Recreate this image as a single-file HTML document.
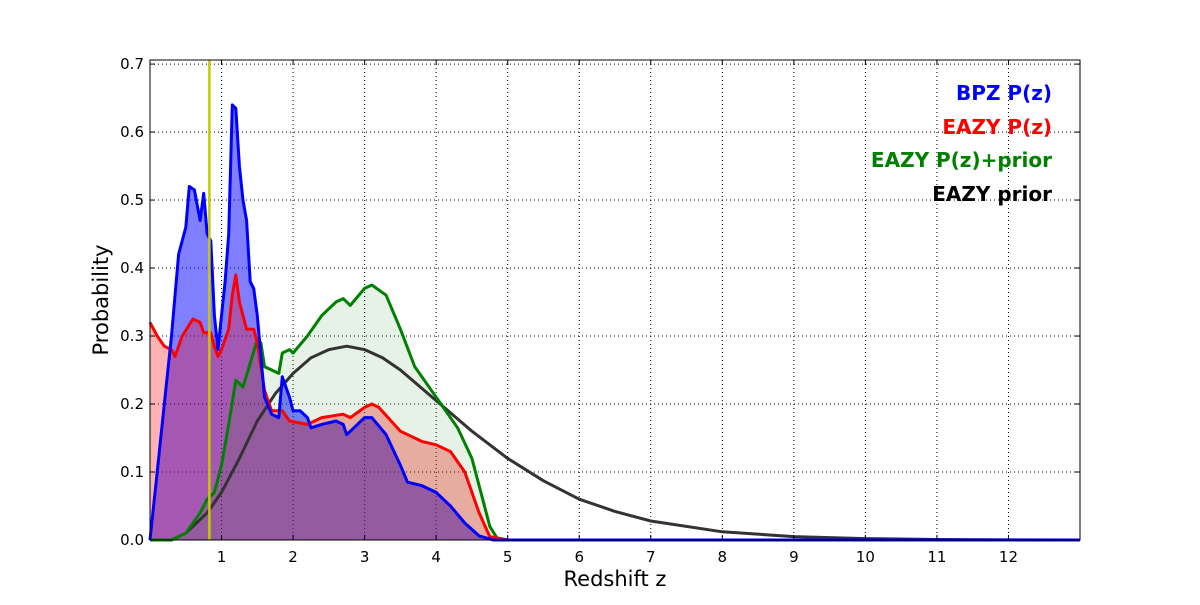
<!DOCTYPE html>
<html><head><meta charset="utf-8"><style>
body{margin:0;background:#fff;width:1200px;height:600px;overflow:hidden}
svg{font-family:"DejaVu Sans","Liberation Sans",sans-serif}
</style></head><body>
<svg id="chart" width="1200" height="600"></svg>
<script>
const tickX=[1,2,3,4,5,6,7,8,9,10,11,12];
const tickY=[0.0,0.1,0.2,0.3,0.4,0.5,0.6,0.7];
const bpzZ=[0,0.1,0.2,0.3,0.4,0.5,0.55,0.62,0.7,0.75,0.8,0.85,0.9,0.95,1.0,1.05,1.1,1.15,1.2,1.25,1.3,1.35,1.4,1.45,1.5,1.55,1.6,1.7,1.8,1.85,1.95,2.0,2.1,2.2,2.25,2.4,2.6,2.7,2.75,2.85,3.0,3.1,3.3,3.5,3.6,3.8,4.0,4.2,4.4,4.6,4.8,13];
const bpzP=[0,0.1,0.2,0.3,0.42,0.46,0.52,0.515,0.47,0.51,0.45,0.44,0.33,0.28,0.33,0.38,0.45,0.64,0.635,0.55,0.5,0.47,0.38,0.37,0.33,0.27,0.21,0.185,0.18,0.24,0.21,0.19,0.19,0.18,0.165,0.17,0.175,0.17,0.155,0.165,0.18,0.18,0.155,0.11,0.085,0.08,0.07,0.05,0.025,0.006,0,0];
const eazyZ=[0,0.1,0.2,0.3,0.35,0.45,0.6,0.7,0.75,0.85,0.9,0.95,1.0,1.1,1.15,1.2,1.25,1.35,1.45,1.5,1.6,1.7,1.85,1.95,2.2,2.4,2.7,2.8,3.0,3.1,3.2,3.5,3.8,4.0,4.2,4.4,4.6,4.75,5,13];
const eazyP=[0.32,0.3,0.285,0.28,0.27,0.3,0.325,0.32,0.305,0.305,0.285,0.27,0.28,0.31,0.36,0.39,0.35,0.31,0.31,0.29,0.22,0.19,0.19,0.175,0.17,0.18,0.185,0.18,0.195,0.2,0.195,0.16,0.145,0.14,0.13,0.1,0.04,0.005,0,0];
const priorPZ=[0,0.3,0.5,0.7,0.8,0.9,1.0,1.1,1.2,1.3,1.4,1.5,1.55,1.6,1.8,1.85,1.95,2.0,2.2,2.4,2.6,2.7,2.8,3.0,3.1,3.3,3.5,3.7,4.0,4.3,4.5,4.65,4.75,4.85,5,13];
const priorPP=[0,0,0.01,0.04,0.06,0.07,0.11,0.17,0.235,0.225,0.26,0.295,0.29,0.255,0.245,0.275,0.28,0.275,0.3,0.33,0.35,0.355,0.345,0.37,0.375,0.36,0.31,0.255,0.21,0.165,0.12,0.06,0.02,0.003,0,0];
const priorZ=[0,0.3,0.5,0.8,1.0,1.25,1.5,1.75,2.0,2.25,2.5,2.75,3.0,3.25,3.5,4.0,4.5,5,5.5,6,6.5,7,8,9,10,11,12,13];
const priorV=[0,0,0.01,0.04,0.07,0.12,0.175,0.215,0.245,0.268,0.28,0.285,0.28,0.268,0.25,0.205,0.16,0.12,0.087,0.06,0.042,0.028,0.012,0.005,0.002,0.0008,0.0002,0];
const zPhot=0.83;
const X0=150,X1=1080,Y0=540,Y1=60,ZMAX=13,PMAX=0.706;
const sx=z=>X0+(z/ZMAX)*(X1-X0), sy=p=>Y0-(p/PMAX)*(Y0-Y1);
const NS='http://www.w3.org/2000/svg', svg=document.getElementById('chart');
function mk(t,a,parent){const e=document.createElementNS(NS,t);for(const k in a)e.setAttribute(k,a[k]);(parent||svg).appendChild(e);return e;}
// grid
tickX.forEach(v=>{const g=mk('line',{x1:sx(v),x2:sx(v),y1:Y1,y2:Y0,stroke:'#000','stroke-dasharray':'1,3','stroke-width':1});

});
tickY.forEach(v=>{if(v===0)return;const g=mk('line',{x1:X0,x2:X1,y1:sy(v),y2:sy(v),stroke:'#000','stroke-dasharray':'1,3','stroke-width':1});

});
function pts(zs,ps){return zs.map((z,i)=>sx(z).toFixed(1)+','+sy(ps[i]).toFixed(1)).join(' ');}
function area(zs,ps,fill,op,name){const p=mk('polygon',{points:sx(zs[0])+','+Y0+' '+pts(zs,ps)+' '+sx(zs[zs.length-1])+','+Y0,fill:fill,'fill-opacity':op});

}
function line(zs,ps,col,name){const p=mk('polyline',{points:pts(zs,ps),fill:'none',stroke:col,'stroke-width':3,'stroke-linejoin':'round'});

}
area(bpzZ,bpzP,'#0000ff',0.5,'bpz-area');
area(eazyZ,eazyP,'#ff0000',0.3,'eazy-area');
area(priorPZ,priorPP,'#008000',0.1,'eazy-prior-pz-area');
line(priorZ,priorV,'#333333','eazy-prior-line');
line(priorPZ,priorPP,'#008000','eazy-prior-pz-line');
line(eazyZ,eazyP,'#ff0000','eazy-pz-line');
line(bpzZ,bpzP,'#0000ff','bpz-pz-line');
const vl=mk('line',{x1:sx(zPhot),x2:sx(zPhot),y1:Y1,y2:Y0,stroke:'#c8c800','stroke-width':2.5});


const fr=mk('rect',{x:X0,y:Y1,width:X1-X0,height:Y0-Y1,fill:'none',stroke:'#000','stroke-width':1});


tickX.forEach(v=>{mk('line',{x1:sx(v),x2:sx(v),y1:Y0,y2:Y0-5,stroke:'#000'});mk('line',{x1:sx(v),x2:sx(v),y1:Y1,y2:Y1+5,stroke:'#000'});
const t=mk('text',{x:sx(v),y:Y0+22,'text-anchor':'middle','font-size':15});t.textContent=v;

});
tickY.forEach(v=>{mk('line',{x1:X0,x2:X0+5,y1:sy(v),y2:sy(v),stroke:'#000'});mk('line',{x1:X1,x2:X1-5,y1:sy(v),y2:sy(v),stroke:'#000'});
const t=mk('text',{x:X0-6,y:sy(v)+5,'text-anchor':'end','font-size':15});t.textContent=v.toFixed(1);

});
</script>
<svg width="1200" height="600" style="position:absolute;left:0;top:0">
<text x="615" y="586" text-anchor="middle" font-size="21">Redshift z</text>
<text transform="translate(108,300) rotate(-90)" text-anchor="middle" font-size="21">Probability</text>
<g font-size="20" font-weight="bold" text-anchor="end">
<text x="1052" y="100" fill="#0000ff">BPZ P(z)</text>
<text x="1052" y="134" fill="#ff0000">EAZY P(z)</text>
<text x="1052" y="167" fill="#008000">EAZY P(z)+prior</text>
<text x="1052" y="201" fill="#000">EAZY prior</text>
</g></svg>
</body></html>
